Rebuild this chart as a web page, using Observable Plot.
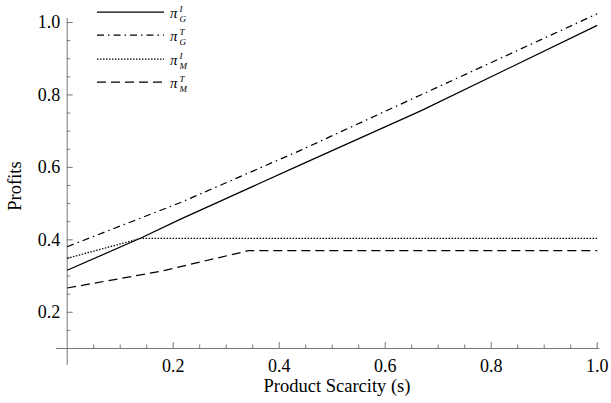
<!DOCTYPE html>
<html>
<head>
<meta charset="utf-8">
<script src="https://cdn.jsdelivr.net/npm/d3@7"></script>
<script src="https://cdn.jsdelivr.net/npm/@observablehq/plot@0.6"></script>
<style>
  html, body { margin: 0; padding: 0; background: #fff; }
  #wrap { position: relative; width: 611px; height: 403px; font-family: "Liberation Serif", "Times New Roman", serif; }
  #chart svg text { font-family: "Liberation Serif", "Times New Roman", serif !important; }
  .lab { position: absolute; font-size: 18.5px; color: #000; white-space: nowrap; line-height: 1; }
  #ylab { left: 15px; top: 186px; transform: translate(-50%, -50%) rotate(-90deg); }
  #xlab { left: 337px; top: 386px; transform: translate(-50%, -50%); }
  #legend { position: absolute; left: 96px; top: 0px; }
  .row { position: absolute; left: 0; height: 22px; width: 140px; }
  .row svg { position: absolute; left: 0; top: 0; }
  .sym { position: absolute; left: 74px; top: 1px; font-size: 15px; line-height: 20px; font-style: italic; }
  .ss { display: inline-block; vertical-align: middle; line-height: 10px; font-size: 9px; margin-left: 2px; position: relative; top: -1px; }
  .ss span { display: block; }
</style>
</head>
<body>
<div id="wrap">
  <div id="chart"></div>
  <div id="legend"></div>
  <div class="lab" id="ylab">Profits</div>
  <div class="lab" id="xlab">Product Scarcity (s)</div>
</div>
<script>
// ---- data ----
const gI_s = [0, 0.139, 0.214, 0.44, 0.667, 1];
const gI_p = [0.316, 0.405, 0.457, 0.607, 0.756, 0.992];

const gT_s = [0, 0.214, 0.44, 0.667, 1];
const gT_p = [0.381, 0.503, 0.647, 0.80, 1.024];

const mI_s = [0, 0.139, 1];
const mI_p = [0.349, 0.404, 0.404];

const mT_s = [0, 0.176, 0.342, 1];
const mT_p = [0.267, 0.313, 0.370, 0.370];

const seriesNames = ["gI", "gT", "mI", "mT"];
const seriesSup = ["I", "T", "I", "T"];
const seriesSub = ["G", "G", "M", "M"];
const seriesDash = [null, "7,4,1.5,4", "1.5,1.5", "9,5"];

const xMajor = [0.2, 0.4, 0.6, 0.8, 1.0];
const xMinor = [0.05, 0.1, 0.15, 0.25, 0.3, 0.35, 0.45, 0.5, 0.55, 0.65, 0.7, 0.75, 0.85, 0.9, 0.95];
const yMajor = [0.2, 0.4, 0.6, 0.8, 1.0];
const yMinor = [0.15, 0.25, 0.3, 0.35, 0.45, 0.5, 0.55, 0.65, 0.7, 0.75, 0.85, 0.9, 0.95];
const xAxisSpan = [-0.02, 1.005];
const yAxisSpan = [0.053, 1.011];
const yAxisAt = 0.1;

// ---- build ----
const toRows = (s, p) => s.map((v, i) => ({s: v, p: p[i]}));
const rows = [toRows(gI_s, gI_p), toRows(gT_s, gT_p), toRows(mI_s, mI_p), toRows(mT_s, mT_p)];

const serif = '"Liberation Serif", "Times New Roman", serif';
const xRange = [66.7, 596.7], yRange = [348, 22];
const xPerPx = 1 / (xRange[1] - xRange[0]);
const yPerPx = (1.0 - 0.1) / (yRange[0] - yRange[1]);
const axisColor = "#777";

const marks = [
  Plot.ruleY([yAxisAt], {x1: xAxisSpan[0], x2: xAxisSpan[1], stroke: axisColor, strokeWidth: 1}),
  Plot.ruleX([0], {y1: yAxisSpan[0], y2: yAxisSpan[1], stroke: axisColor, strokeWidth: 1}),
  Plot.ruleX(xMajor, {y1: yAxisAt, y2: yAxisAt + 6 * yPerPx, stroke: axisColor}),
  Plot.ruleX(xMinor, {y1: yAxisAt, y2: yAxisAt + 3.5 * yPerPx, stroke: axisColor}),
  Plot.ruleY(yMajor, {x1: 0, x2: 6 * xPerPx, stroke: axisColor}),
  Plot.ruleY(yMinor, {x1: 0, x2: 3.5 * xPerPx, stroke: axisColor}),
  Plot.text(xMajor, {x: d => d, y: yAxisAt, dy: 17.5, text: d => d.toFixed(1), fontSize: 18, fontFamily: serif, fill: "#000"}),
  Plot.text(yMajor, {x: 0, y: d => d, dx: -7, text: d => d.toFixed(1), textAnchor: "end", fontSize: 18, fontFamily: serif, fill: "#000"})
];
rows.forEach((r, i) => {
  marks.push(Plot.line(r, {x: "s", y: "p", stroke: "#000", strokeWidth: 1.25, strokeDasharray: seriesDash[i], strokeLinecap: "butt"}));
});

const chart = Plot.plot({
  width: 611,
  height: 403,
  style: {fontFamily: serif, background: "#fff"},
  x: {domain: [0, 1], range: xRange, axis: null},
  y: {domain: [0.1, 1.0], range: yRange, axis: null},
  marks
});
document.getElementById("chart").appendChild(chart);

// ---- legend ----
const leg = document.getElementById("legend");
const rowTops = [2, 25, 49, 72];
seriesNames.forEach((n, i) => {
  const row = document.createElement("div");
  row.className = "row";
  row.style.top = rowTops[i] + "px";
  const dash = seriesDash[i] ? ` stroke-dasharray="${seriesDash[i]}"` : "";
  row.innerHTML = `<svg width="70" height="22"><line x1="1" x2="68" y1="10" y2="10" stroke="#000" stroke-width="1.25"${dash}/></svg>` +
    `<span class="sym">π<span class="ss"><span>${seriesSup[i]}</span><span>${seriesSub[i]}</span></span></span>`;
  leg.appendChild(row);
});
</script>
</body>
</html>
